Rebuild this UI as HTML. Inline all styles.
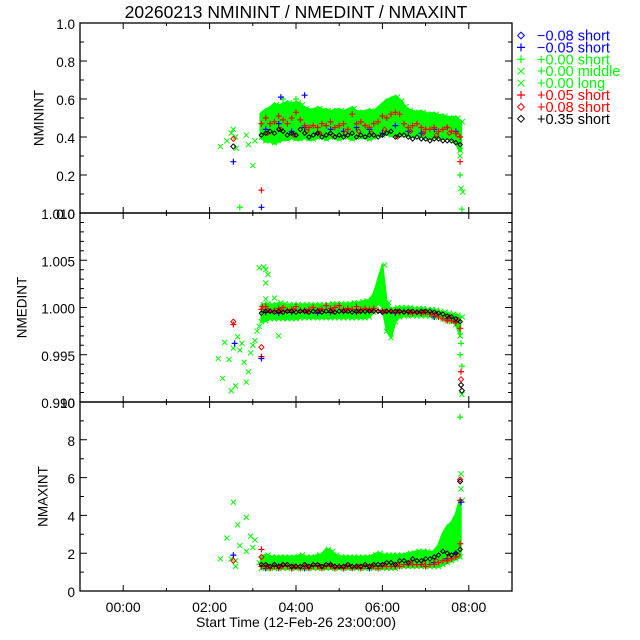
<!DOCTYPE html>
<html><head><meta charset="utf-8"><style>
html,body{margin:0;padding:0;background:#fff;}
svg{display:block;font-family:"Liberation Sans",sans-serif;}
</style></head><body>
<svg id="chart" width="640" height="640" viewBox="0 0 640 640" xmlns="http://www.w3.org/2000/svg">
<rect width="640" height="640" fill="#fff"/>
<text x="296" y="18" font-size="17.5" text-anchor="middle" fill="#000">20260213 NMININT / NMEDINT / NMAXINT</text>
<g id="plots"></g>
<g id="legend"></g>
</svg>
<script>
// ---------- data ----------
const xTickLabels = ["00:00","02:00","04:00","06:00","08:00"];
const xTickHours = [0,2,4,6,8];
const xTitle = "Start Time (12-Feb-26 23:00:00)";

const T = [3.2,3.3,3.4,3.5,3.6,3.7,3.8,3.9,4.0,4.1,4.2,4.3,4.4,4.5,4.6,4.7,4.8,4.9,5.0,5.1,5.2,5.3,5.4,5.5,5.6,5.7,5.8,5.9,6.0,6.1,6.2,6.3,6.4,6.5,6.6,6.7,6.8,6.9,7.0,7.1,7.2,7.3,7.4,7.5,7.6,7.7,7.8];
const TB = [3.3,3.6,3.9,4.2,4.5,4.8,5.1,5.4,5.7,6.0,6.3,6.6,6.9,7.2,7.5,7.7];

// Panel 1: NMININT
const minTicks = ["0.0","0.2","0.4","0.6","0.8","1.0"];
const minBandHi = [.52,.54,.55,.57,.56,.57,.58,.57,.58,.57,.55,.54,.54,.55,.54,.54,.53,.54,.54,.53,.54,.55,.53,.53,.53,.54,.53,.55,.57,.59,.60,.61,.59,.56,.54,.53,.53,.53,.52,.52,.52,.51,.51,.50,.50,.50,.48];
const minBandLo = [.40,.38,.38,.37,.38,.39,.39,.40,.39,.39,.40,.39,.39,.40,.40,.39,.40,.40,.39,.40,.40,.39,.40,.40,.40,.39,.40,.41,.41,.42,.41,.41,.41,.42,.41,.41,.41,.41,.40,.40,.40,.40,.40,.40,.39,.38,.33];
const minRed = [.47,.50,.47,.48,.51,.49,.47,.50,.53,.49,.46,.45,.46,.45,.47,.46,.48,.45,.46,.47,.44,.52,.47,.48,.46,.45,.47,.48,.51,.50,.52,.53,.52,.47,.45,.46,.47,.45,.44,.44,.45,.43,.44,.45,.43,.42,.40];
const minBlack = [.41,.42,.43,.42,.44,.43,.41,.42,.41,.44,.42,.40,.41,.42,.40,.41,.42,.40,.41,.40,.41,.42,.40,.41,.40,.41,.41,.40,.41,.42,.43,.40,.41,.41,.40,.39,.40,.39,.39,.38,.39,.39,.38,.38,.38,.37,.36];
const minBlue = [.44,.47,.43,.45,.42,.44,.43,.45,.44,.42,.46,.43,.42,.44,.45,.43];
const minRedDia = [.42,.44,.41,.43,.42,.41,.42,.43,.42,.44,.40,.43,.42,.41,.42,.41];
const minXtraS = ["g","g","g","g","g","g","gp","g","g","g","g","r","b","b","k","rd","b","b","gp","gp","g","gp","g","gp","r","g"];
const minXtraT = [2.25,2.4,2.5,2.55,2.6,2.62,2.7,2.85,2.9,3.0,3.05,3.2,3.2,2.55,2.55,2.55,3.65,4.2,3.7,4.0,7.8,7.8,7.82,7.84,7.8,7.86];
const minXtraV = [0.35,0.38,0.42,0.44,0.40,0.34,0.03,0.41,0.36,0.25,0.38,0.12,0.03,0.27,0.35,0.39,0.61,0.62,0.60,0.60,0.30,0.20,0.13,0.02,0.27,0.11];

// Panel 2: NMEDINT
const medTicks = ["0.990","0.995","1.000","1.005","1.010"];
const medBandHi = [1.0003,1.0004,1.0003,1.0003,1.0005,1.0004,1.0003,1.0003,1.0003,1.0003,1.0003,1.0003,1.0003,1.0003,1.0003,1.0003,1.0004,1.0004,1.0004,1.0004,1.0004,1.0005,1.0005,1.0006,1.0007,1.0008,1.0015,1.0030,1.0045,1.0005,0.9998,1.0000,1.0000,1.0000,1.0000,0.9999,0.9999,0.9999,0.9998,0.9998,0.9997,0.9996,0.9995,0.9994,0.9993,0.9992,0.9990];
const medBandLo = [0.9985,0.9986,0.9988,0.9988,0.9988,0.9988,0.9988,0.9988,0.9988,0.9989,0.9989,0.9989,0.9989,0.9989,0.9989,0.9989,0.9989,0.9989,0.9989,0.9989,0.9989,0.9989,0.9989,0.9989,0.9989,0.9990,0.9995,1.0005,1.0000,0.9975,0.9968,0.9985,0.9990,0.9991,0.9991,0.9991,0.9991,0.9991,0.9991,0.9991,0.9990,0.9990,0.9988,0.9986,0.9985,0.9982,0.9970];
const medRed = [0.9998,1.0001,0.9996,0.9997,0.9999,1.0000,0.9997,0.9998,1.0001,0.9997,0.9997,0.9998,1.0000,0.9997,0.9998,1.0002,0.9999,1.0000,1.0002,0.9998,0.9999,0.9998,1.0001,0.9998,0.9999,0.9998,0.9999,0.9997,0.9996,0.9996,0.9996,0.9995,0.9995,0.9996,0.9995,0.9994,0.9995,0.9994,0.9995,0.9993,0.9992,0.9990,0.9988,0.9986,0.9986,0.9984,0.9978];
const medBlack = [0.9994,0.9996,0.9996,0.9995,0.9996,0.9995,0.9996,0.9996,0.9995,0.9996,0.9996,0.9995,0.9996,0.9996,0.9995,0.9996,0.9996,0.9995,0.9996,0.9996,0.9996,0.9995,0.9996,0.9996,0.9996,0.9996,0.9996,0.9996,0.9995,0.9996,0.9996,0.9996,0.9996,0.9995,0.9996,0.9996,0.9995,0.9996,0.9996,0.9996,0.9995,0.9994,0.9993,0.9991,0.9990,0.9988,0.9985];
const medBlue = [0.9995,0.9994,0.9995,0.9996,0.9994,0.9995,0.9996,0.9995,0.9996,0.9995,0.9994,0.9995,0.9994,0.9990,0.9988,0.9985];
const medRedDia = [0.9997,0.9996,0.9997,0.9996,0.9997,0.9996,0.9997,0.9996,0.9997,0.9996,0.9996,0.9995,0.9995,0.9993,0.9990,0.9987];
const medXtraS = ["g","g","g","g","g","g","g","g","g","g","g","g","g","g","g","g","g","g","g","g","g","g","rd","r","b","rd","r","b","r","g","g","g","g","gp","gp","gp","r","rd","k","k","g"];
const medXtraT = [2.2,2.3,2.35,2.45,2.5,2.55,2.6,2.65,2.7,2.75,2.8,2.85,2.9,2.95,3.0,3.05,3.1,3.15,3.25,3.3,3.3,3.5,2.55,2.55,2.58,3.2,3.2,3.2,3.22,3.3,3.35,3.15,3.6,7.8,7.82,7.84,7.82,7.82,7.82,7.84,7.84];
const medXtraV = [0.9946,0.9925,0.9963,0.9945,0.9912,0.9957,0.9917,0.9969,0.9955,0.9962,0.9942,0.9921,0.9932,0.9952,0.9960,0.9965,0.9975,0.9980,1.0043,1.0040,1.0026,1.0010,0.9985,0.9982,0.9962,0.9958,0.9948,0.9946,1.0001,1.0009,1.0035,1.0042,0.9970,0.9950,0.9962,0.9938,0.9932,0.9924,0.9918,0.9912,0.9908];

// Panel 3: NMAXINT
const maxTicks = ["0","2","4","6","8","10"];
const maxBandHi = [1.8,1.9,1.8,1.8,1.8,1.8,1.8,1.8,1.8,1.9,1.8,1.8,1.8,1.9,1.9,2.2,2.1,1.9,1.8,1.8,1.8,1.8,1.8,1.8,1.8,1.8,1.9,2.0,1.9,1.9,1.9,1.9,1.9,1.9,2.0,2.0,2.1,2.1,2.1,2.0,2.1,2.4,3.0,3.4,3.6,4.0,4.8];
const maxBandLo = [1.2,1.2,1.2,1.2,1.2,1.2,1.2,1.2,1.2,1.2,1.2,1.2,1.2,1.2,1.2,1.2,1.2,1.2,1.2,1.2,1.2,1.2,1.2,1.2,1.2,1.2,1.2,1.2,1.2,1.2,1.2,1.2,1.3,1.3,1.3,1.3,1.3,1.3,1.3,1.3,1.3,1.3,1.4,1.5,1.6,1.7,1.8];
const maxRed = [1.3,1.3,1.2,1.3,1.2,1.3,1.3,1.2,1.3,1.2,1.3,1.2,1.3,1.3,1.2,1.3,1.3,1.2,1.3,1.2,1.3,1.2,1.3,1.2,1.3,1.3,1.3,1.2,1.3,1.3,1.3,1.3,1.3,1.4,1.4,1.4,1.4,1.4,1.3,1.4,1.4,1.5,1.6,1.6,1.7,1.8,2.5];
const maxBlack = [1.4,1.4,1.3,1.4,1.3,1.4,1.4,1.3,1.3,1.3,1.4,1.3,1.4,1.4,1.3,1.4,1.4,1.3,1.3,1.3,1.4,1.3,1.3,1.3,1.4,1.3,1.4,1.4,1.4,1.5,1.5,1.4,1.6,1.6,1.5,1.7,1.6,1.6,1.7,1.7,1.8,1.9,2.1,2.0,1.9,2.0,2.2];
const maxBlue = [1.2,1.3,1.2,1.2,1.3,1.4,1.2,1.3,1.2,1.3,1.3,1.4,1.4,1.5,1.7,2.0];
const maxRedDia = [1.3,1.3,1.3,1.3,1.3,1.3,1.3,1.3,1.3,1.4,1.4,1.5,1.5,1.6,1.8,1.9];
const maxXtraS = ["g","g","g","g","g","g","g","g","g","g","g","g","g","g","r","b","rd","rd","gp","g","g","rd","k","r","b","g","g"];
const maxXtraT = [2.25,2.4,2.55,2.65,2.7,2.85,2.95,3.0,3.05,2.85,2.6,2.6,2.5,3.15,3.2,2.55,2.55,3.2,7.8,7.82,7.82,7.8,7.8,7.8,7.82,7.7,7.75];
const maxXtraV = [1.7,2.8,4.7,3.5,2.4,3.9,2.9,2.3,2.7,2.1,1.6,1.3,1.7,1.5,2.2,1.9,1.6,1.8,9.2,6.2,5.4,5.9,5.8,4.8,4.7,3.8,3.2];

// ---------- layout ----------
const XL = 80, XR = 512, TMIN = -1, TMAX = 9;
const panels = [
  {name:"nminint", title:"NMININT", top:23, bot:213, vmin:0, vmax:1, ticks:minTicks, tickStep:0.2, minor:2, titleX:40, sw:4,
   hi:minBandHi, lo:minBandLo, red:minRed, black:minBlack, blue:minBlue, redDia:minRedDia, xs:minXtraS, xt:minXtraT, xv:minXtraV},
  {name:"nmedint", title:"NMEDINT", top:213, bot:402, vmin:0.99, vmax:1.01, ticks:medTicks, tickStep:0.005, minor:5, titleX:23, sw:2,
   hi:medBandHi, lo:medBandLo, red:medRed, black:medBlack, blue:medBlue, redDia:medRedDia, xs:medXtraS, xt:medXtraT, xv:medXtraV},
  {name:"nmaxint", title:"NMAXINT", top:402, bot:591, vmin:0, vmax:10, ticks:maxTicks, tickStep:2, minor:2, titleX:44, sw:3,
   hi:maxBandHi, lo:maxBandLo, red:maxRed, black:maxBlack, blue:maxBlue, redDia:maxRedDia, xs:maxXtraS, xt:maxXtraT, xv:maxXtraV}
];
const NS = "http://www.w3.org/2000/svg";
const root = document.getElementById('plots');
function mk(tag, attrs, parent){ const e=document.createElementNS(NS,tag); for(const k in attrs) e.setAttribute(k,attrs[k]); (parent||root).appendChild(e); return e; }
function xS(t){ return XL + (t - TMIN) / (TMAX - TMIN) * (XR - XL); }
const COL = {g:"#00ff00", r:"#ff0000", b:"#0000ff", k:"#000000"};

function marker(g, kind, color, x, y, s){
  s = s || 3;
  let e;
  if(kind==="plus"){ e = mk('path',{d:`M${x-s},${y}H${x+s}M${x},${y-s}V${y+s}`,stroke:color,'stroke-width':1.2,fill:'none'},g); }
  else if(kind==="x"){ const q=s*0.85; e = mk('path',{d:`M${x-q},${y-q}L${x+q},${y+q}M${x-q},${y+q}L${x+q},${y-q}`,stroke:color,'stroke-width':1,fill:'none'},g); }
  else { const q=s*0.85; e = mk('path',{d:`M${x},${y-q}L${x+q},${y}L${x},${y+q}L${x-q},${y}Z`,stroke:color,'stroke-width':1,fill:'none'},g); }
  return e;
}

panels.forEach(p=>{
  const yS = v => p.bot - (v - p.vmin)/(p.vmax - p.vmin)*(p.bot - p.top);
  const g = mk('g',{});
  
  
  const clipId = 'clip-'+p.name;
  const cp = mk('clipPath',{id:clipId},g); mk('rect',{x:XL,y:p.top,width:XR-XL,height:p.bot-p.top},cp);
  const data = mk('g',{'clip-path':`url(#${clipId})`},g);
  
  

  let d = "";
  T.forEach((t,i)=>{ d += (i?"L":"M") + xS(t).toFixed(1) + "," + yS(p.hi[i]).toFixed(1); });
  for(let i=T.length-1;i>=0;i--){ d += "L" + xS(T[i]).toFixed(1) + "," + yS(p.lo[i]).toFixed(1); }
  const band = mk('path',{d:d+"Z",fill:COL.g,stroke:COL.g,'stroke-width':p.sw,'stroke-linejoin':'round'},data);
  
  
  T.forEach((t,i)=>{
    const m1 = marker(data,"x",COL.g,xS(t+0.05),yS(p.hi[i]));
    
    
    const m2 = marker(data,"x",COL.g,xS(t),yS(p.lo[i]));
    
    
  });
  p.xs.forEach((s,i)=>{
    if(s!=="g" && s!=="gp") return;
    const m = marker(data, s==="g"?"x":"plus", COL.g, xS(p.xt[i]), yS(p.xv[i]));
    
    
  });
  TB.forEach((t,i)=>{
    const m = marker(data,"plus",COL.b,xS(t),yS(p.blue[i]));
    
    
  });
  T.forEach((t,i)=>{
    const m = marker(data,"plus",COL.r,xS(t),yS(p.red[i]));
    
    
  });
  TB.forEach((t,i)=>{
    const m = marker(data,"dia",COL.r,xS(t+0.05),yS(p.redDia[i]),2.6);
    
    
  });
  T.forEach((t,i)=>{
    const m = marker(data,"dia",COL.k,xS(t),yS(p.black[i]),2.6);
    
    
  });
  p.xs.forEach((s,i)=>{
    if(s==="g"||s==="gp") return;
    const kind = (s==="rd"||s==="k") ? "dia" : "plus";
    const col = s==="rd" ? COL.r : COL[s];
    const m = marker(data, kind, col, xS(p.xt[i]), yS(p.xv[i]));
    
    
  });

  const box = mk('rect',{x:XL,y:p.top,width:XR-XL,height:p.bot-p.top,fill:'none',stroke:'#000','stroke-width':1.3},g);
  
  
  let td = "";
  const nMaj = p.ticks.length;
  for(let i=0;i<nMaj;i++){
    const v = p.vmin + i*p.tickStep;
    const y = yS(v);
    td += `M${XL},${y}h7M${XR},${y}h-7`;
    if(i<nMaj-1){
      for(let k=1;k<p.minor;k++){
        const ym = yS(v + k*p.tickStep/p.minor);
        td += `M${XL},${ym}h4M${XR},${ym}h-4`;
      }
    }
    const lab = mk('text',{x:75,y:y+6,'font-size':13.5,'text-anchor':'end',fill:'#000'},g);
    lab.textContent = p.ticks[i];
    
    
  }
  for(let h=TMIN; h<=TMAX; h++){
    const x = xS(h);
    const len = (h%2===0) ? 6 : 3;
    td += `M${x},${p.bot}v-${len}M${x},${p.top}v${len}`;
  }
  const tk = mk('path',{d:td,stroke:'#000','stroke-width':1,fill:'none'},g);
  
  
  const cy = (p.top+p.bot)/2;
  const yt = mk('text',{x:p.titleX,y:cy,'font-size':13.5,'text-anchor':'middle',fill:'#000',transform:`rotate(-90 ${p.titleX} ${cy})`,'dominant-baseline':'middle'},g);
  yt.textContent = p.title;
  
  
});

xTickHours.forEach((h,i)=>{
  const t = mk('text',{x:xS(h),y:612,'font-size':14,'text-anchor':'middle',fill:'#000'});
  t.textContent = xTickLabels[i];
  
  
});
const xt = mk('text',{x:296,y:627,'font-size':14,'text-anchor':'middle',fill:'#000'});
xt.textContent = xTitle;



const legLabels = ["\u22120.08 short","\u22120.05 short","+0.00 short","+0.00 middle","+0.00 long","+0.05 short","+0.08 short","+0.35 short"];
const legColors = ["#0000ff","#0000ff","#00ff00","#00ff00","#00ff00","#ff0000","#ff0000","#000000"];
const legKinds = ["dia","plus","plus","x","x","plus","dia","dia"];
const lg = document.getElementById('legend');
legLabels.forEach((l,i)=>{
  const y = 35.5 + i*11.9;
  const row = mk('g',{},lg);
  
  
  marker(row, legKinds[i], legColors[i], 521, y, 4);
  const t = mk('text',{x:537,y:y+5,'font-size':14.5,fill:legColors[i]},row);
  t.textContent = l;
});
</script>
</body></html>
